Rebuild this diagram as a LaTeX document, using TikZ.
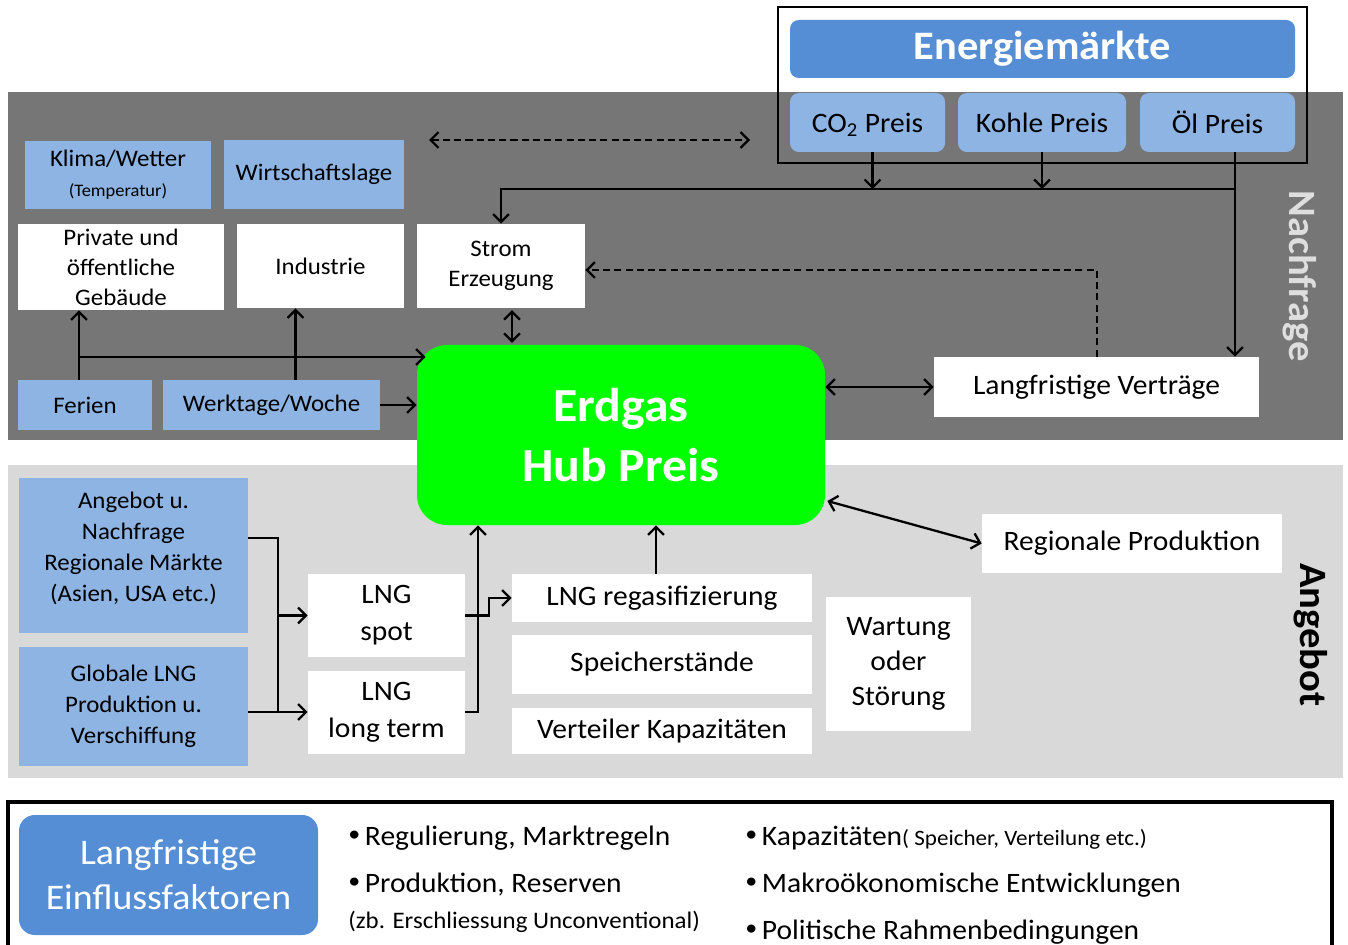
\documentclass[tikz,border=0pt]{standalone}
\usepackage{fontspec}
\setmainfont{Carlito}[FakeStretch=1.05]
\usetikzlibrary{arrows.meta,calc}

\definecolor{bandDark}{RGB}{118,118,118}
\definecolor{bandLight}{RGB}{217,217,217}
\definecolor{paleBlue}{RGB}{141,180,226}
\definecolor{deepBlue}{RGB}{85,142,213}
\definecolor{hubGreen}{RGB}{0,255,0}
\definecolor{sideText}{RGB}{222,222,222}

\newcommand\fsz[2]{\fontsize{#1}{#2}\selectfont}
\newcommand\bul{\raisebox{0.3ex}{\fsz{13}{13}•}\,}

\begin{document}
\begin{tikzpicture}[x=0.02cm,y=-0.02cm,
  area/.style args={#1/#2/#3/#4}{at={({(#1+#3)/2},{(#2+#4)/2})},
      minimum width={(#3-#1)*0.02cm}, minimum height={(#4-#2)*0.02cm}},
  box/.style={inner sep=0pt, align=center, text=black},
  pale/.style={box, fill=paleBlue},
  plain/.style={box, fill=white},
  txtM/.style={font=\fsz{13.5}{17}},
  txtL/.style={font=\fsz{16}{20.5}},
  conn/.style={line width=1.3pt, draw=black},
  arr/.style={conn, -{Straight Barb[length=4.5pt,width=9pt]}},
  dbl/.style={conn, {Straight Barb[length=4.5pt,width=9pt]}-{Straight Barb[length=4.5pt,width=9pt]}},
  dsh/.style={conn, dash pattern=on 4pt off 2.4pt},
  side/.style={font=\fsz{22}{26}\bfseries, rotate=-90},
  bullet/.style={anchor=west, inner sep=0pt, font=\fsz{16}{20}}
]
\useasboundingbox (0,0) rectangle (1348,945);

% background bands
\fill[bandDark] (8,92) rectangle (1343,440);
\fill[bandLight] (8,465) rectangle (1343,778);

% energy markets
\node[draw=black, line width=1.5pt, inner sep=0pt, area=778/7/1307/163] (emframe) {};
\node[box, fill=deepBlue, rounded corners=5pt, text=white, font=\fsz{23}{27}\bfseries,
      area=790/20/1295/78] (em) {Energiemärkte};
\node[pale, rounded corners=5pt, txtL, text depth=0pt, area=790/93/945/152] (co2) {CO\textsubscript{2} Preis};
\node[pale, rounded corners=5pt, txtL, area=958/93/1126/152] (kohle) {Kohle Preis};
\node[pale, rounded corners=5pt, txtL, area=1140/93/1295/152] (oel) {Öl Preis};

% demand side
\node[pale, txtM, area=25/141/211/209] (klima) {Klima/Wetter\\{\fsz{10}{14}(Temperatur)}};
\node[pale, txtM, area=224/140/404/209] (wirt) {Wirtschaftslage};
\node[plain, txtM, area=18/224/224/310] (priv) {Private und\\öffentliche\\Gebäude};
\node[plain, txtM, area=237/224/404/308] (ind) {Industrie};
\node[plain, txtM, area=417/224/585/308] (strom) {Strom\\Erzeugung};
\node[pale, txtM, area=18/380/152/430] (ferien) {Ferien};
\node[pale, txtM, area=163/380/380/430] (werk) {Werktage/Woche};

% hub price
\node[box, fill=hubGreen, rounded corners=17pt, text=white, font=\fsz{27}{34}\bfseries,
      area=417/345/825/525] (hub) {Erdgas\\Hub Preis};

\node[plain, txtL, area=934/357/1259/417] (lv) {Langfristige Verträge};
\node[side, text=sideText] (nachfrage) at (1300,276) {Nachfrage};

% supply side
\node[pale, font=\fsz{13.5}{17.5}, text depth=10pt, area=19/478/248/633] (angnf) {Angebot u.\\Nachfrage\\Regionale Märkte\\(Asien, USA etc.)};
\node[pale, font=\fsz{13.5}{17.5}, area=19/647/248/766] (glob) {Globale LNG\\Produktion u.\\Verschiffung};
\node[plain, font=\fsz{16}{21}, area=308/574/465/657] (spot) {LNG\\spot};
\node[plain, font=\fsz{16}{21}, area=308/671/465/754] (longt) {LNG\\long term};
\node[plain, txtL, area=512/574/812/622] (regas) {LNG regasifizierung};
\node[plain, txtL, area=512/635/812/694] (speich) {Speicherstände};
\node[plain, txtL, area=512/708/812/754] (vert) {Verteiler Kapazitäten};
\node[plain, font=\fsz{16}{20}, area=826/597/971/731] (wart) {Wartung\\oder\\Störung};
\node[plain, txtL, area=982/514/1282/573] (regprod) {Regionale Produktion};
\node[side, text=black] (angebot) at (1311,635) {Angebot};

% junction points of the connectors
\coordinate (bus) at (1235,189);
\coordinate (dl) at (429,140);
\coordinate (dr) at (750,140);
\coordinate (dk) at (1097,270);
\coordinate (fj) at (79,357);
\coordinate (ja) at (278,538);
\coordinate (jb) at (278,712);
\coordinate (jc) at (478,712);
\coordinate (jd) at (489,598);
\coordinate (c2) at ($(co2.south)+(5,0)$);
\coordinate (wk) at ($(werk.north)+(24,0)$);
\coordinate (sd) at ($(strom.south)+(11,0)$);
\coordinate (rg) at ($(regas.north)+(-6,0)$);
\coordinate (hr) at ($(hub.east)+(2,66)$);

% energy market connectors
\draw[arr] (oel.south -| bus) -- (lv.north -| bus);
\draw[arr] (bus) -| (strom.north);
\draw[arr] (c2) -- (c2 |- bus);
\draw[arr] (kohle.south) -- (kohle.south |- bus);
\draw[dsh, {Straight Barb[length=4.5pt,width=9pt]}-{Straight Barb[length=4.5pt,width=9pt]}] (dl) -- (dr);
\draw[dsh, -{Straight Barb[length=4.5pt,width=9pt]}] (lv.north -| dk) -- (dk) -- (strom.east |- dk);
\draw[dbl, shorten <=1pt, shorten >=1pt] (sd) -- (sd |- hub.north);

% demand connectors
\draw[arr] (ferien.north -| fj) -- (priv.south -| fj);
\draw[arr] (fj) -- ($(hub.west |- fj)+(9,0)$);
\draw[arr] (wk) -- (wk |- ind.south);
\draw[arr] (werk.east) -- (hub.west |- werk.east);
\draw[dbl] (hub.east |- lv.west) -- (lv.west);

% supply connectors
\draw[conn] (angnf.east |- ja) -- (ja) -- (jb);
\draw[arr] (ja |- spot.west) -- (spot.west);
\draw[arr] (glob.east |- jb) -- (longt.west |- jb);
\draw[arr] (longt.east |- jc) -- (jc) -- (hub.south -| jc);
\draw[arr] (spot.east) -- (spot.east -| jd) -- (jd) -- (regas.west |- jd);
\draw[arr] (rg) -- (rg |- hub.south);
\draw[dbl] (hr) -- (regprod.west);

% long-term factors
\draw[line width=2pt] (8,950) -- (8,802) -- (1332,802) -- (1332,950);
\node[box, fill=deepBlue, rounded corners=9pt, text=white, font=\fsz{20.5}{25.5},
      area=19/815/318/935] (lfe) {Langfristige\\Einflussfaktoren};
\node[bullet] (b1) at (348,838) {\bul Regulierung, Marktregeln};
\node[bullet] (b2) at (348,885) {\bul Produktion, Reserven};
\node[bullet, font=\fsz{13.5}{16}] (b2a) at (348,922) {(zb. Erschliessung Unconventional)};
\node[bullet] (b3) at (745,838) {\bul Kapazitäten{\fsz{12.5}{15}( Speicher, Verteilung etc.)}};
\node[bullet] (b4) at (745,885) {\bul Makroökonomische Entwicklungen};
\node[bullet] (b5) at (745,932) {\bul Politische Rahmenbedingungen};
\end{tikzpicture}
\end{document}
